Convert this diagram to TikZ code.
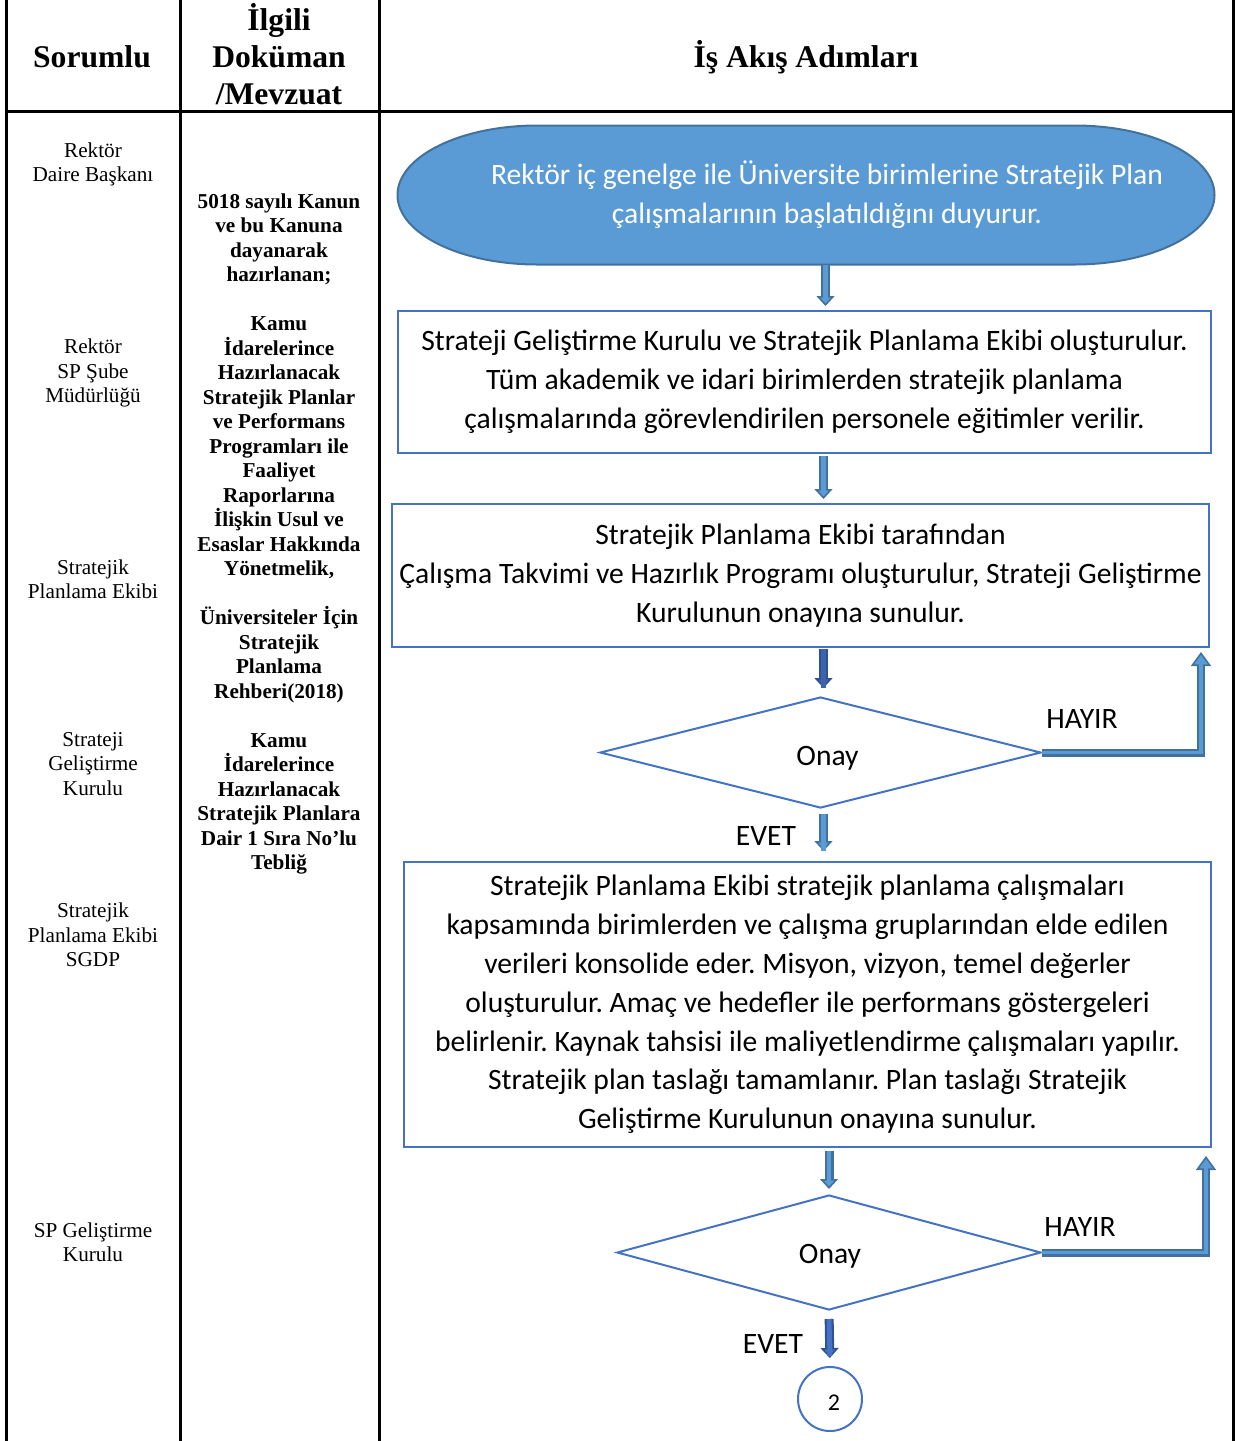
\documentclass[tikz,border=0pt]{standalone}
\usepackage{fontspec}
\setmainfont{Liberation Serif}
\newfontfamily\flowfont{Carlito}
\usetikzlibrary{shapes.geometric,arrows.meta}
\definecolor{boxblue}{HTML}{4472C4}
\definecolor{fillblue}{HTML}{5B9BD5}
\definecolor{edgeblue}{HTML}{41719C}
\definecolor{koyuedge}{HTML}{2F528F}
\definecolor{koyufill}{HTML}{3C64AE}
\newcommand{\flowsize}{\flowfont\fontsize{14.8pt}{19.4pt}\selectfont}
\frenchspacing

\begin{document}
\begin{tikzpicture}[x=0.5pt,y=-0.5pt,
  tableline/.style={line width=1.5pt},
  baslik/.style={align=center,font=\fontsize{15.8pt}{18.5pt}\selectfont\bfseries},
  sorumlu/.style={align=center,font=\fontsize{10.6pt}{12.2pt}\selectfont},
  dokuman/.style={align=center,font=\fontsize{10.6pt}{12.25pt}\selectfont\bfseries},
  adim/.style={draw=boxblue,line width=1pt,inner sep=0pt,align=center,font=\flowsize},
  karar/.style={diamond,draw=boxblue,line width=1pt,inner sep=0pt},
  etiket/.style={font=\flowsize},
  ok/.style 2 args={draw=#1,line width=4.5pt,
    -{Triangle[width=9pt,length=5pt,line width=0.8pt,fill=#2]},
    postaction={draw=#2,line width=2.4pt,-,shorten >=5pt}},
  okasagi/.style={ok={edgeblue}{fillblue}},
  okkoyu/.style={ok={koyuedge}{koyufill}},
  okgeri/.style={draw=edgeblue,line width=4pt,line join=miter,
    -{Triangle[width=10pt,length=7pt,line width=0.8pt,fill=fillblue]},
    postaction={draw=fillblue,line width=1.8pt,-,shorten >=7pt}}]
\useasboundingbox (0,0) rectangle (1235,1441);

% table
\foreach \x in {6,180,379,1233} % column lines
\draw[tableline] (\x,0) -- (\x,1441);
\draw[tableline] (6,111) -- (1233,111);

\node[baslik] (h1) at (92,57) {Sorumlu};
\node[baslik] (h2) at (279,54.5) {İlgili\\Doküman\\/Mevzuat};
\node[baslik] (h3) at (806,57) {İş Akış Adımları};

% sorumlu column
\foreach \y/\txt [count=\i] in {164.5/{Rektör\\Daire Başkanı},
  373/{Rektör\\SP Şube\\Müdürlüğü},
  579/{Stratejik\\Planlama Ekibi},
  764/{Strateji\\Geliştirme\\Kurulu},
  935/{Stratejik\\Planlama Ekibi\\SGDP},
  1242/{SP Geliştirme\\Kurulu}}
\node[sorumlu] (sor\i) at (93,\y) {\txt};

% mevzuat column
\node[dokuman] (mevzuat) at (279,534) {5018 sayılı Kanun\\ve bu Kanuna\\dayanarak\\hazırlanan;\\[12.25pt]
Kamu\\İdarelerince\\Hazırlanacak\\Stratejik Planlar\\ve Performans\\Programları ile\\Faaliyet\\Raporlarına\\İlişkin Usul ve\\Esaslar Hakkında\\Yönetmelik,\\[12.25pt]
Üniversiteler İçin\\Stratejik\\Planlama\\Rehberi(2018)\\[12.25pt]
Kamu\\İdarelerince\\Hazırlanacak\\Stratejik Planlara\\Dair 1 Sıra No’lu\\Tebliğ};

% flow
\node[minimum width=408.5pt,minimum height=69.5pt,inner sep=0pt,outer sep=0pt] (start) at (806,195) {};
\draw[draw=edgeblue,fill=fillblue,line width=1pt]
  ([xshift=70pt]start.north west) -- ([xshift=-70pt]start.north east)
  arc[start angle=90,end angle=-90,x radius=70pt,y radius=34.75pt]
  -- ([xshift=70pt]start.south west)
  arc[start angle=270,end angle=90,x radius=70pt,y radius=34.75pt] -- cycle;
\node[align=center,text=white,font=\flowsize] (starttext) at (827,195)
  {Rektör iç genelge ile Üniversite birimlerine Stratejik Plan\\çalışmalarının başlatıldığını duyurur.};

\node[adim,minimum width=406.5pt,minimum height=71pt] (kurul) at (804.5,382)
  {Strateji Geliştirme Kurulu ve Stratejik Planlama Ekibi oluşturulur.\\
   Tüm akademik ve idari birimlerden stratejik planlama\\
   çalışmalarında görevlendirilen personele eğitimler verilir.};

\node[adim,minimum width=408.5pt,minimum height=71.5pt] (takvim) at (800.5,575.5)
  {Stratejik Planlama Ekibi tarafından\\
   Çalışma Takvimi ve Hazırlık Programı oluşturulur, Strateji Geliştirme\\
   Kurulunun onayına sunulur.};

\node[karar,minimum width=220.5pt,minimum height=55.5pt,
  label={[etiket,xshift=3.5pt,yshift=-3pt]center:Onay}] (onay1) at (820.5,752.5) {};

\node[adim,minimum width=403.5pt,minimum height=142.5pt] (taslak) at (807.5,1004.5)
  {Stratejik Planlama Ekibi stratejik planlama çalışmaları\\
   kapsamında birimlerden ve çalışma gruplarından elde edilen\\
   verileri konsolide eder. Misyon, vizyon, temel değerler\\
   oluşturulur. Amaç ve hedefler ile performans göstergeleri\\
   belirlenir. Kaynak tahsisi ile maliyetlendirme çalışmaları yapılır.\\
   Stratejik plan taslağı tamamlanır. Plan taslağı Stratejik\\
   Geliştirme Kurulunun onayına sunulur.};

\node[karar,minimum width=212pt,minimum height=57.5pt,
  label={[etiket,xshift=0.5pt,yshift=-2pt]center:Onay}] (onay2) at (829,1252.5) {};

\node[circle,draw=boxblue,line width=1pt,minimum size=32pt,inner sep=0pt,
  label={[font=\flowfont\fontsize{12pt}{14pt}\selectfont,xshift=2pt,yshift=-2pt]center:2}] (baglanti) at (830,1399) {};

\node[etiket] (hayir1) at (1082,719) {HAYIR};
\node[etiket] (evet1) at (766,836) {EVET};
\node[etiket] (hayir2) at (1080,1227) {HAYIR};
\node[etiket] (evet2) at (773,1344) {EVET};

% arrows
\draw[okasagi,shorten >=2pt] ([xshift=2.5pt]start.south -| onay1.north) -- ([xshift=2.5pt]kurul.north -| onay1.north);
\draw[okasagi,shorten <=1pt,shorten >=2pt] ([xshift=1.5pt]kurul.south -| onay1.north) -- ([xshift=1.5pt]takvim.north -| onay1.north);
\draw[okkoyu,shorten <=0.5pt,shorten >=5pt] ([xshift=1.5pt]takvim.south -| onay1.north) -- ([xshift=1.5pt,yshift=-1pt]onay1.north);
\draw[okasagi,shorten <=2.5pt,shorten >=5pt] ([xshift=1.5pt]onay1.south) -- ([xshift=1.5pt]taslak.north -| onay1.south);
\draw[okasagi,shorten <=1.5pt,shorten >=2.5pt] (taslak.south -| onay2.north) -- (onay2.north);
\draw[ok={koyuedge}{boxblue},shorten <=4pt,shorten >=4pt] (onay2.south) -- (baglanti.north);

\draw[okgeri,shorten >=2pt] (onay1.east) -| ([xshift=-4.5pt]takvim.south east);
\draw[okgeri,shorten >=4pt] (onay2.east) -| ([xshift=-3pt]taslak.south east);

\end{tikzpicture}
\end{document}
